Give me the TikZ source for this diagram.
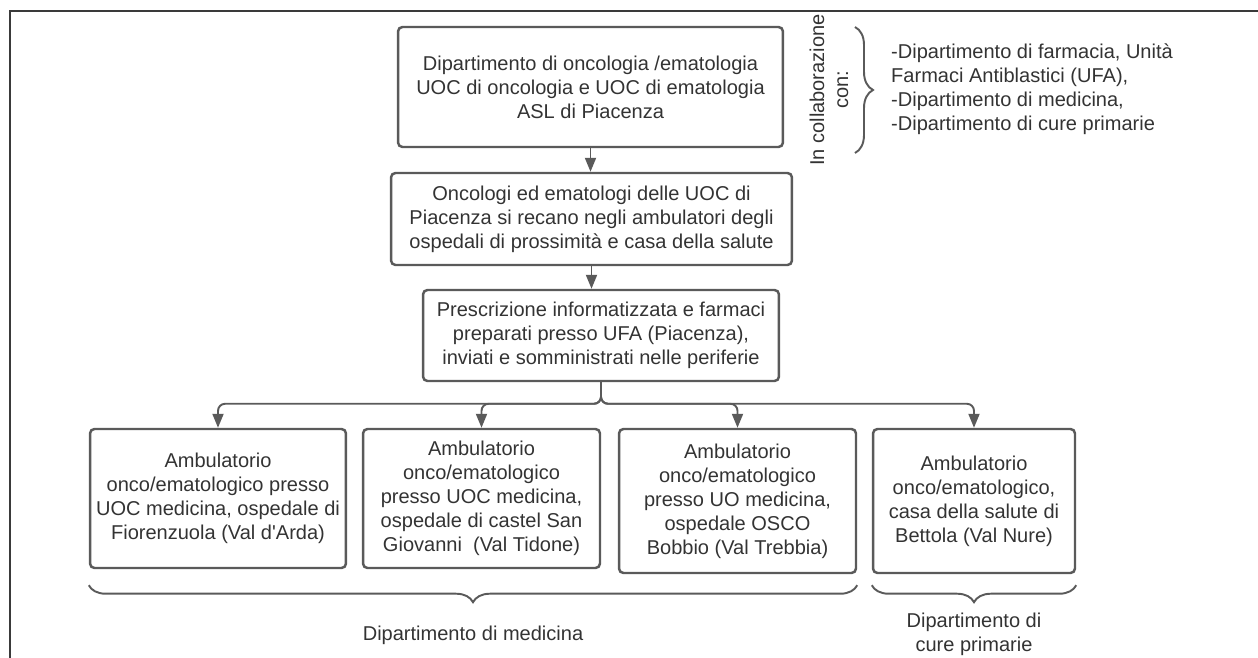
\documentclass[tikz,border=0pt]{standalone}
\usepackage{fontspec}
\setmainfont{Liberation Sans}
\usepackage{xcolor}
\definecolor{flowtext}{HTML}{333333}
\definecolor{flowline}{HTML}{5A5A5A}
\definecolor{flowframe}{HTML}{3A3A3A}
\usetikzlibrary{arrows.meta,positioning,calc,decorations.pathreplacing}

\begin{document}
\begin{tikzpicture}[
  x=0.02cm, y=-0.02cm,
  font=\fontsize{11.4}{13.7}\selectfont, text=flowtext,
  box/.style={rectangle, rounded corners=2.5pt, draw=flowline, line width=1.4pt,
              align=center, inner sep=1pt},
  flow/.style={-{Triangle[length=2.8mm, width=2.2mm]}, line width=1.1pt, flowline},
  fork/.style={flow, rounded corners=4pt},
  grp/.style={decorate, decoration={brace, amplitude=0.34cm}, line width=1.1pt, flowline},
  lbl/.style={align=center},
]
\useasboundingbox (0,0) rectangle (1258,658);
% ---------- page frame (only top and left edges show)
\draw[flowframe, line width=0.8pt] (1258,11) -- (10,11) -- (10,658);

% ---------- the chain down the middle
\node[box, minimum width=7.7cm, minimum height=2.4cm] (hq) at (590.5,87)
  {Dipartimento di oncologia /ematologia\\UOC di oncologia e UOC di ematologia\\ASL di Piacenza};
\node[box, minimum width=8.02cm, minimum height=1.84cm] (visit) at (591.5,219)
  {Oncologi ed ematologi delle UOC di\\Piacenza si recano negli ambulatori degli\\ospedali di prossimità e casa della salute};
\node[box, minimum width=7.12cm, minimum height=1.82cm] (rx) at (601,335.5)
  {Prescrizione informatizzata e farmaci\\preparati presso UFA (Piacenza),\\inviati e somministrati nelle periferie};
\draw[flow] (hq.south) -- (hq.south |- visit.north);
\draw[flow] (visit.south) -- (visit.south |- rx.north);

% ---------- collaboration note, top right
\node[lbl, rotate=90] (collab) at (829,90) {In collaborazione\\con:};
\coordinate (brtop) at (855,27);
\coordinate (brbot) at (855,153);
\draw[grp, decoration={amplitude=0.36cm}] (brtop) -- (brbot);
\node[align=left, anchor=west] (partners) at (885,89)
  {-Dipartimento di farmacia, Unità\\Farmaci Antiblastici (UFA),\\-Dipartimento di medicina,\\-Dipartimento di cure primarie};

% ---------- the four outpatient clinics
\node[box, minimum width=5.12cm, minimum height=2.78cm] (m1) at (218,498.5)
  {Ambulatorio\\onco/ematologico presso\\UOC medicina, ospedale di\\Fiorenzuola (Val d\textquotesingle Arda)};
\node[box, minimum width=4.74cm, minimum height=2.78cm] (m2) at (481.5,498.5)
  {Ambulatorio\\onco/ematologico\\presso UOC medicina,\\ospedale di castel San\\Giovanni\ \ (Val Tidone)};
\node[box, minimum width=4.74cm, minimum height=2.88cm] (m3) at (737.5,501)
  {Ambulatorio\\onco/ematologico\\presso UO medicina,\\ospedale OSCO\\Bobbio (Val Trebbia)};
\node[box, minimum width=4.04cm, minimum height=2.88cm] (m4) at (974,501)
  {Ambulatorio\\onco/ematologico,\\casa della salute di\\Bettola (Val Nure)};
\foreach \m in {m1,m2,m3,m4}
  \draw[fork] (rx.south) |- ($(\m.north)+(0,-24)$) -- (\m.north);

% ---------- departments under the clinics
\draw[grp, decoration={mirror}] ($(m1.south west)+(0,16)$) -- ($(m3.south east)+(0,11)$);
\draw[grp, decoration={mirror}] ($(m4.south west)+(0,11)$) -- ($(m4.south east)+(0,11)$);
\node[lbl] (medicina) at (473,635) {Dipartimento di medicina};
\node[lbl] (cure) at (974,634.5) {Dipartimento di\\cure primarie};
\end{tikzpicture}
\end{document}
